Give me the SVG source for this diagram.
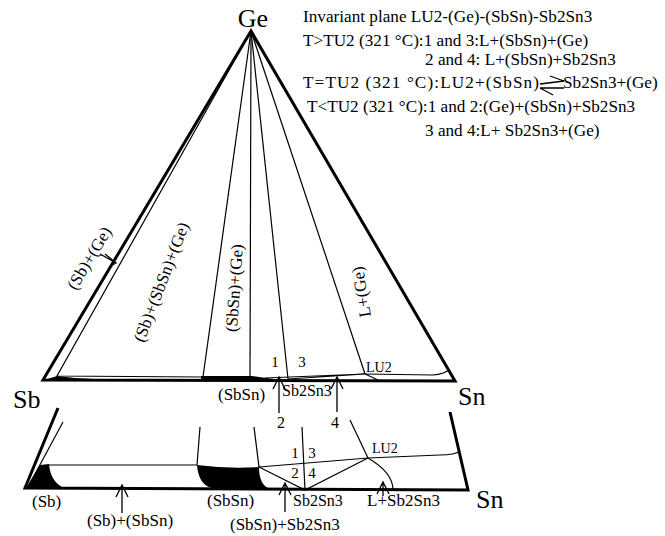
<svg xmlns="http://www.w3.org/2000/svg" width="665" height="536" viewBox="0 0 665 536" font-family="'Liberation Serif', 'DejaVu Serif', serif">
  <style>
    text { font-family: 'Liberation Serif', 'DejaVu Serif', serif; fill: #000; }
    .big { font-size: 26px; }
    .txt { font-size: 17.2px; }
    .lbl { font-size: 17px; }
    .sm { font-size: 16px; }
    .num { font-size: 15px; }
    .lu { font-size: 14px; }
    .thick { stroke: #000; stroke-width: 3; fill: none; stroke-linejoin: miter; }
    .thin { stroke: #000; stroke-width: 1.2; fill: none; }
    .fill { fill: #000; stroke: none; }
    .arr { stroke: #000; stroke-width: 1.3; fill: none; }
  </style>
  <rect width="665" height="536" fill="#fff"/>

  <!-- Legend block -->
  <g id="legend">
    <text class="txt" x="303" y="22">Invariant plane LU2-(Ge)-(SbSn)-Sb2Sn3</text>
    <text class="txt" x="303" y="46">T&gt;TU2 (321 °C):1 and 3:L+(SbSn)+(Ge)</text>
    <text class="txt" x="425" y="65">2 and 4: L+(SbSn)+Sb2Sn3</text>
    <text class="txt" x="303" y="88" textLength="236" lengthAdjust="spacing">T=TU2 (321 °C):LU2+(SbSn)</text>
    <!-- equilibrium half-arrows -->
    <path class="arr" d="M540,84 L564,81 L550,76 M564,88 L540,88 L553,95"/>
    <text class="txt" x="563" y="88">Sb2Sn3+(Ge)</text>
    <text class="txt" x="307" y="112">T&lt;TU2 (321 °C):1 and 2:(Ge)+(SbSn)+Sb2Sn3</text>
    <text class="txt" x="425" y="136">3 and 4:L+ Sb2Sn3+(Ge)</text>
  </g>

  <!-- Ternary triangle -->
  <g id="triangle">
    <path class="thick" d="M251,31 L43,380 L455,381 Z"/>
    <text class="big" x="253" y="27" text-anchor="middle">Ge</text>
    <text class="big" x="13" y="408">Sb</text>
    <text class="big" x="458" y="405">Sn</text>
  </g>

  <!-- Phase-field boundaries inside the triangle -->
  <g id="tie-lines">
    <path class="thin" d="M251,31 L57,376 L203,377"/>
    <path class="thin" d="M251,31 L203,377"/>
    <path class="thin" d="M251,31 L250,377"/>
    <path class="thin" d="M251,31 L288,379"/>
    <path class="thin" d="M251,31 L365,374"/>
    <path class="thin" d="M365,374 L433,375 Q444,374 449,370"/>
    <path class="thin" d="M365,374 L378,380"/>
    <path class="thin" d="M265,378 L365,374 M288,379 L365,374"/>
    <path class="fill" d="M44,380 L57,376 L75,378 L105,379.5 L44,381 Z"/>
    <path class="fill" d="M201,376 L252,376 L266,378 L282,380 L201,381 Z"/>
  </g>

  <!-- Labels inside the triangle -->
  <g id="fields">
    <text class="lbl" text-anchor="middle" dy="0.35em" transform="translate(89,258) rotate(-59)">(Sb)+(Ge)</text>
    <text class="lbl" text-anchor="middle" dy="0.35em" transform="translate(161,282) rotate(-69)">(Sb)+(SbSn)+(Ge)</text>
    <text class="lbl" text-anchor="middle" dy="0.35em" transform="translate(234,288) rotate(-86)">(SbSn)+(Ge)</text>
    <text class="lbl" text-anchor="middle" dy="0.35em" transform="translate(361,292) rotate(-99)">L+(Ge)</text>
    <text class="num" x="275" y="367" text-anchor="middle">1</text>
    <text class="num" x="302" y="367" text-anchor="middle">3</text>
    <text class="lu" x="366" y="372">LU2</text>
    <text class="lbl" x="218" y="400">(SbSn)</text>
    <text class="sm" x="282" y="396">Sb2Sn3</text>
    <text class="sm" x="281" y="428" text-anchor="middle">2</text>
    <text class="sm" x="335" y="428" text-anchor="middle">4</text>
  </g>

  <!-- Pointer arrows -->
  <g id="connectors">
    <path class="arr" d="M100,254 L116,263 M105,254 L116,263 L109,267"/>
    <path class="arr" d="M279,413 L279,377 M273,389 L279,377 L285,389"/>
    <path class="arr" d="M337,412 L337,377 M331,389 L337,377 L343,389"/>
    <path class="arr" d="M122,513 L122,485 M116,497 L122,485 L128,497"/>
    <path class="arr" d="M285,512 L285,483 M279,495 L285,483 L291,495"/>
    <path class="arr" d="M383,496 L383,482 M377,494 L383,482 L389,494"/>
  </g>

  <!-- Enlarged strip near the Sb-Sn side -->
  <g id="enlarged">
    <path class="thick" d="M58,408 L25,488 L468,490 L450,412"/>
    <path class="thin" d="M63,422 L28,487"/>
    <path class="fill" d="M26,488 L40,465 L49,464 C50,476 55,484 64,488 Z"/>
    <path class="fill" d="M197,465 Q228,469 259,467 C259,478 262,485 268,488 L212,488 C203,486 198,478 197,465 Z"/>
    <path class="thin" d="M48,465 L197,465"/>
    <path class="thin" d="M200,427 L197,465"/>
    <path class="thin" d="M254,427 L259,467"/>
    <path class="thin" d="M302,427 L305,490"/>
    <path class="thin" d="M350,420 L368,458"/>
    <path class="thin" d="M259,467 L368,458 L440,455 Q455,455 460,451"/>
    <path class="thin" d="M259,467 L305,490 L368,458"/>
    <path class="thin" d="M368,458 C380,465 393,475 393,490"/>
    <text class="num" x="295" y="458" text-anchor="middle">1</text>
    <text class="num" x="312" y="458" text-anchor="middle">3</text>
    <text class="num" x="295" y="478" text-anchor="middle">2</text>
    <text class="num" x="312" y="478" text-anchor="middle">4</text>
    <text class="lu" x="372" y="453">LU2</text>
    <text class="lbl" x="32" y="507">(Sb)</text>
    <text class="lbl" x="87" y="526">(Sb)+(SbSn)</text>
    <text class="lbl" x="207" y="506">(SbSn)</text>
    <text class="sm" x="293" y="506">Sb2Sn3</text>
    <text class="lbl" x="230" y="530">(SbSn)+Sb2Sn3</text>
    <text class="lbl" x="367" y="506">L+Sb2Sn3</text>
    <text class="big" x="476" y="508">Sn</text>
  </g>
</svg>
